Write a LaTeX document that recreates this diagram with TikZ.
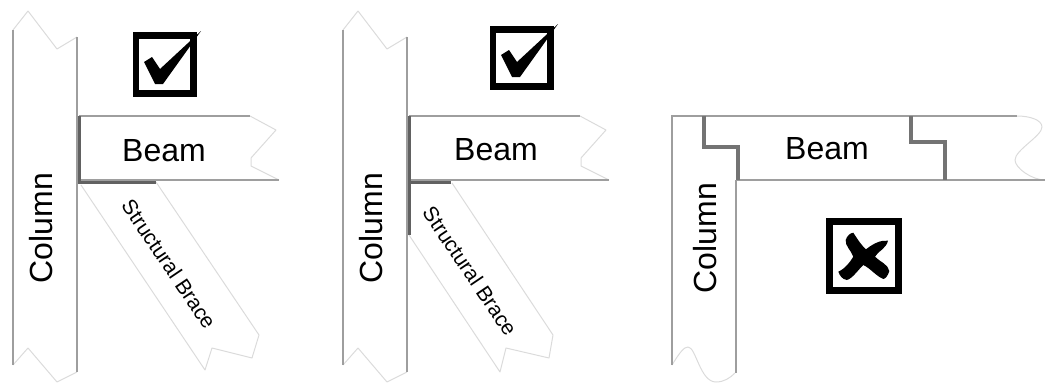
\documentclass[tikz,border=0pt]{standalone}
\usepackage{fontspec}
\setmainfont{Liberation Sans}
\tikzset{
  edgeline/.style={draw=black!38,line width=1.3pt},
  faintline/.style={draw=black!14,line width=1pt,line join=round},
  jointline/.style={draw=black!62,line width=3pt,line join=miter},
  stepline/.style={draw=black!55,line width=3.6pt,line join=miter},
  bigtext/.style={inner sep=0pt,font=\fontsize{32}{36}\selectfont,text=black},
  bracetext/.style={inner sep=0pt,font=\fontsize{21}{24}\selectfont,rotate=-56,text=black},
  markbox/.style={draw=black,line width=6.5pt,line join=miter},
}
\begin{document}
\begin{tikzpicture}[x=1pt,y=-1pt]
\useasboundingbox (0,0) rectangle (1045,383);
% ---- panel 1
\draw[faintline] (13,30) -- (28,11) -- (57,49) -- (77,37);
\draw[faintline] (13,365) -- (28,348) -- (57,382) -- (77,372);
\draw[edgeline] (13,30) -- (13,365);
\draw[edgeline] (77,37) -- (77,372);
\draw[faintline] (250,116) -- (276,130) -- (251,158) -- (251,166) -- (279,180);
\draw[edgeline] (79,116) -- (250,116);
\draw[edgeline] (79,180) -- (279,180);
\draw[faintline] (81,185) -- (205,370) -- (212,348) -- (252,358) -- (259,335) -- (156,182);
\draw[jointline] (79,116) -- (79,182) -- (156,182);
\node[bigtext,rotate=90] (col1) at (41,228) {Column};
\node[bigtext] (beam1) at (164,151) {Beam};
\node[bracetext] (brace1) at (169,264) {Structural Brace};
\draw[markbox] (136.2,35.5) rectangle (193.5,93.5);
\fill[black] (144,62) -- (152,57) -- (160,69) -- (201,31) -- (163,84) -- (155,84) -- cycle;
% ---- panel 2
\draw[faintline] (343,30) -- (358,11) -- (387,49) -- (407,37);
\draw[faintline] (343,365) -- (358,348) -- (387,382) -- (407,372);
\draw[edgeline] (343,30) -- (343,365);
\draw[edgeline] (407,37) -- (407,372);
\draw[faintline] (580,116) -- (606,130) -- (581,158) -- (581,166) -- (609,180);
\draw[edgeline] (409,116) -- (580,116);
\draw[edgeline] (409,180) -- (609,180);
\draw[faintline] (409,235) -- (500,372) -- (506,348) -- (549,358) -- (553,335) -- (452,183);
\draw[jointline] (409,116) -- (409,235);
\draw[jointline] (409,182) -- (451,182);
\node[bigtext,rotate=90] (col2) at (371,228) {Column};
\node[bigtext] (beam2) at (496,150) {Beam};
\node[bracetext] (brace2) at (470,271) {Structural Brace};
\draw[markbox] (493.2,29.5) rectangle (550.5,86.5);
\fill[black] (501,55) -- (509,50) -- (517,62) -- (558,24) -- (520,77) -- (512,77) -- cycle;
% ---- panel 3
\draw[faintline] (672,365) .. controls (680,352) and (684,347) .. (688,347) .. controls (696,347) and (700,382) .. (716,382) .. controls (724,382) and (730,378) .. (735,373);
\draw[faintline] (1017,116) .. controls (1030,116) and (1042,120) .. (1042,127) .. controls (1042,136) and (1015,150) .. (1015,160) .. controls (1015,168) and (1032,180) .. (1045,180);
\draw[edgeline] (672,365) -- (672,116) -- (1017,116);
\draw[edgeline] (736,180) -- (736,373);
\draw[edgeline] (736,180) -- (1045,180);
\draw[stepline] (704,116) -- (704,147) -- (738,147) -- (738,180);
\draw[stepline] (911,116) -- (911,142) -- (945,142) -- (945,180);
\node[bigtext] (beam3) at (827,149) {Beam};
\node[bigtext,rotate=90] (col3) at (705,238) {Column};
\draw[markbox,line width=7.5pt] (829.7,221.7) rectangle (898.3,290.3);
\fill[black] (853.3,232.7) .. controls (858,240) and (862,246) .. (866,249.3)
  .. controls (874,243) and (881,240) .. (888,240.7)
  .. controls (886,249) and (878,251) .. (875,256.7)
  .. controls (880,262) and (888,264) .. (889.3,271)
  .. controls (888,276) and (885,279) .. (883.3,279)
  .. controls (876,276) and (870,268) .. (863.3,265)
  .. controls (858,270) and (852,279) .. (846.7,280)
  .. controls (842,279) and (840,276) .. (838.3,271.7)
  .. controls (846,268) and (850,262) .. (853.3,256.7)
  .. controls (851,250) and (845,246) .. (845.7,240)
  .. controls (847,236) and (850,233) .. (853.3,232.7) -- cycle;
\end{tikzpicture}
\end{document}
